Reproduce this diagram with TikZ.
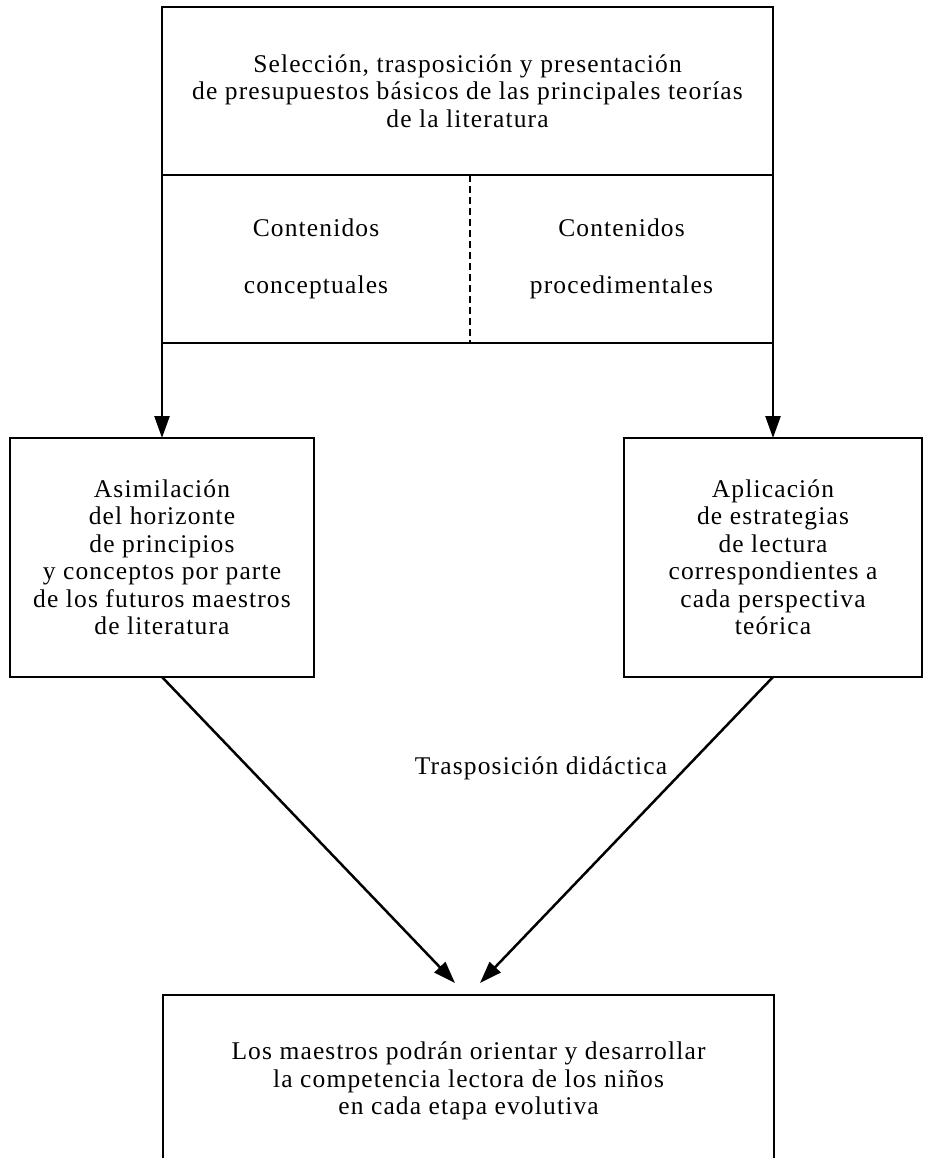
\documentclass[tikz,border=0pt]{standalone}
\usepackage{fontspec}
\setmainfont{Liberation Serif}[LetterSpace=4.5]
\usetikzlibrary{arrows.meta}

\begin{document}
\begin{tikzpicture}
         [x=1pt,y=-1pt,line width=2.5pt,>={Triangle[length=22pt,width=15pt]},
          every node/.style={align=center,inner sep=0pt,outer sep=0pt,font=\fontsize{25.5}{27.5}\selectfont},
          caja/.style={draw,rectangle}]
         \useasboundingbox (0,0) rectangle (924,1158);

         \node[caja,minimum width=611pt,minimum height=168pt] (nTitulo) at (467.5,91)
              {Selección, trasposición y presentación\\de presupuestos básicos de las principales teorías\\de la literatura};
         \node[minimum width=308pt,minimum height=168pt] (nConceptuales) at (316,259) {Contenidos\\[29.5pt]conceptuales};
         \node[minimum width=303pt,minimum height=168pt] (nProcedimentales) at (621.5,259) {Contenidos\\[29.5pt]procedimentales};
         \node[caja,minimum width=304pt,minimum height=239pt] (nAsimilacion) at (162,557.5)
              {Asimilación\\del horizonte\\de principios\\y conceptos por parte\\de los futuros maestros\\de literatura};
         \node[caja,minimum width=298pt,minimum height=239pt] (nAplicacion) at (773,557.5)
              {Aplicación\\de estrategias\\de lectura\\correspondientes a\\cada perspectiva\\teórica};
         \node[caja,minimum width=611pt,minimum height=172pt] (nMaestros) at (468.5,1081)
              {Los maestros podrán orientar y desarrollar\\la competencia lectora de los niños\\en cada etapa evolutiva};
         \node (nTrasposicion) at (541,768) {Trasposición didáctica};

         \coordinate (cIzq) at (455,983);
         \coordinate (cDer) at (480,983);

         \draw (nConceptuales.north west) |- (nProcedimentales.south east) -- (nProcedimentales.north east);
         \draw[dash pattern=on 7pt off 4pt] (nConceptuales.north east) -- (nConceptuales.south east);

         \foreach \from/\to in {nConceptuales.south west/nAsimilacion.north,nProcedimentales.south east/nAplicacion.north,nAsimilacion.south/cIzq,nAplicacion.south/cDer}
             \draw[->] (\from) -- (\to);

     \end{tikzpicture}
\end{document}
